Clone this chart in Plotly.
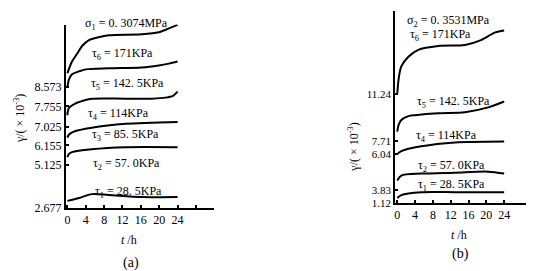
import plotly.graph_objects as go

W, H = 534, 271

# ---------------- data: panel (a), sigma1 = 0.3074 MPa ----------------
a_t6 = [0, 1.0, 2.1, 3.2, 4.7, 6.8, 9.0, 16.2, 19.9, 22.1, 24]
a_g6 = [9.24, 9.81, 10.19, 10.57, 10.86, 11.00, 11.09, 11.14, 11.24, 11.43, 11.60]
a_t5 = [0, 0.3, 1.0, 2.5, 4.0, 9.0, 16.2, 19.9, 22.1, 24]
a_g5 = [8.53, 8.91, 9.19, 9.33, 9.43, 9.48, 9.52, 9.62, 9.71, 9.81]
a_t4 = [0, 0.3, 1.8, 3.6, 5.3, 12.7, 18.4, 21.4, 23.0, 24]
a_g4 = [7.19, 7.53, 7.77, 7.91, 8.00, 8.00, 8.00, 8.05, 8.14, 8.34]
a_t3 = [0, 0.3, 1.4, 5.3, 12.7, 24]
a_g3 = [6.10, 6.24, 6.39, 6.58, 6.77, 6.86]
a_t2 = [0, 0.3, 1.0, 5.3, 12.7, 24]
a_g2 = [5.15, 5.29, 5.39, 5.53, 5.63, 5.63]
a_t1 = [0, 2.5, 5.3, 9.0, 16.2, 24]
a_g1 = [3.01, 3.15, 3.34, 3.30, 3.20, 3.20]

a_ytick_text = ["8.573", "7.755", "7.025", "6.155", "5.125", "2.677"]
a_ytick_vals = [8.573, 7.62, 6.62, 5.72, 4.77, 2.677]
a_curve_labels = ["σ<sub>1</sub> = 0. 3074MPa", "τ<sub>6</sub> = 171KPa", "τ<sub>5</sub> = 142. 5KPa",
                  "τ<sub>4</sub> = 114KPa", "τ<sub>3</sub> = 85. 5KPa", "τ<sub>2</sub> = 57. 0KPa",
                  "τ<sub>1</sub> = 28. 5KPa"]

# ---------------- data: panel (b), sigma2 = 0.3531 MPa ----------------
b_t6 = [0, 0.3, 0.9, 2.5, 4.7, 9.2, 15.2, 18.8, 22.0, 24]
b_g6 = [11.24, 12.60, 13.77, 14.67, 15.31, 15.67, 15.76, 16.21, 16.93, 17.11]
b_t5 = [0, 0.3, 0.9, 2.5, 4.0, 9.2, 15.2, 20.4, 24]
b_g5 = [7.72, 8.35, 8.80, 9.16, 9.25, 9.43, 9.52, 9.97, 10.52]
b_t4 = [0, 0.9, 5.4, 13, 24]
b_g4 = [5.64, 5.91, 6.36, 6.72, 6.81]
b_t2 = [0, 0.9, 5.4, 13, 20.4, 24]
b_g2 = [3.20, 3.65, 3.83, 3.92, 4.01, 3.83]
b_t1 = [0, 0.9, 5.4, 13, 24]
b_g1 = [1.57, 1.84, 2.11, 2.11, 2.11]

b_ytick_text = ["11.24", "7.71", "6.04", "3.83", "1.12"]
b_ytick_vals = [11.24, 6.81, 5.64, 2.30, 1.12]
b_curve_labels = ["σ<sub>2</sub> = 0. 3531MPa", "τ<sub>6</sub> = 171KPa", "τ<sub>5</sub> = 142. 5KPa",
                  "τ<sub>4</sub> = 114KPa", "τ<sub>2</sub> = 57. 0KPa", "τ<sub>1</sub> = 28. 5KPa"]

x_tick_vals = [0, 4, 8, 12, 16, 20, 24, 28]
x_tick_text = ["0", "4", "8", "12", "16", "20", "24", ""]

FONT = "Liberation Serif"

fig = go.Figure()
line = dict(color="black", width=2, shape="spline", smoothing=0.8)
for t, g in [(a_t6, a_g6), (a_t5, a_g5), (a_t4, a_g4), (a_t3, a_g3), (a_t2, a_g2), (a_t1, a_g1)]:
    fig.add_trace(go.Scatter(x=t, y=g, mode="lines", line=line, xaxis="x", yaxis="y",
                             showlegend=False, hoverinfo="skip"))
for t, g in [(b_t6, b_g6), (b_t5, b_g5), (b_t4, b_g4), (b_t2, b_g2), (b_t1, b_g1)]:
    fig.add_trace(go.Scatter(x=t, y=g, mode="lines", line=line, xaxis="x2", yaxis="y2",
                             showlegend=False, hoverinfo="skip"))

def px(x):
    return x / W

def py(y):
    return 1 - y / H

axis_common = dict(showline=True, linecolor="black", linewidth=2, showgrid=False, zeroline=False,
                   ticks="inside", ticklen=3, tickwidth=2, tickcolor="black")

fig.update_layout(
    width=W, height=H, margin=dict(l=0, r=0, t=0, b=0),
    paper_bgcolor="white", plot_bgcolor="white",
    font=dict(family=FONT, size=12, color="black"),
    xaxis=dict(domain=[px(57), px(205)], range=[-0.33, 31.85], anchor="y",
               tickmode="array", tickvals=x_tick_vals, ticktext=x_tick_text,
               tickfont=dict(family=FONT, size=12, color="black"), **axis_common),
    yaxis=dict(domain=[py(205), py(17)], range=[2.677, 11.617], anchor="x",
               tickmode="array", tickvals=a_ytick_vals, ticktext=a_ytick_text,
               tickfont=dict(family=FONT, size=12, color="black"), **axis_common),
    xaxis2=dict(domain=[px(387), px(530)], range=[-0.45, 31.6], anchor="y2",
                tickmode="array", tickvals=x_tick_vals[:7], ticktext=x_tick_text[:7],
                tickfont=dict(family=FONT, size=12, color="black"), **axis_common),
    yaxis2=dict(domain=[py(200), py(3)], range=[1.12, 18.92], anchor="x2",
                tickmode="array", tickvals=b_ytick_vals, ticktext=b_ytick_text,
                tickfont=dict(family=FONT, size=11, color="black"), **axis_common),
)

ann = []
def add(text, x, y, size=12, angle=0):
    ann.append(dict(text=text, x=px(x), y=py(y), xref="paper", yref="paper", showarrow=False,
                    xanchor="center", yanchor="middle", textangle=angle,
                    font=dict(family=FONT, size=size, color="black")))

a_label_pos = [(118, 16), (114, 47), (119, 78), (110, 109), (117, 130), (118, 160), (120, 189)]
for txt, (x, y) in zip(a_curve_labels, a_label_pos):
    add(txt, x, y)
b_label_pos = [(440, 13), (432, 28), (445, 97), (438, 131), (443, 162), (443, 182)]
for txt, (x, y) in zip(b_curve_labels, b_label_pos):
    add(txt, x, y)

add("<i>t</i> /h", 120, 238)
add("<i>t</i> /h", 451, 233)
add("(a)", 122, 262, size=14)
add("(b)", 452, 253, size=14)
add("γ/( × 10<sup>-3</sup>)", 10, 113, angle=-90)
add("γ/( × 10<sup>-3</sup>)", 345, 143, angle=-90)

fig.update_layout(annotations=ann)
fig.write_html("out.html")
